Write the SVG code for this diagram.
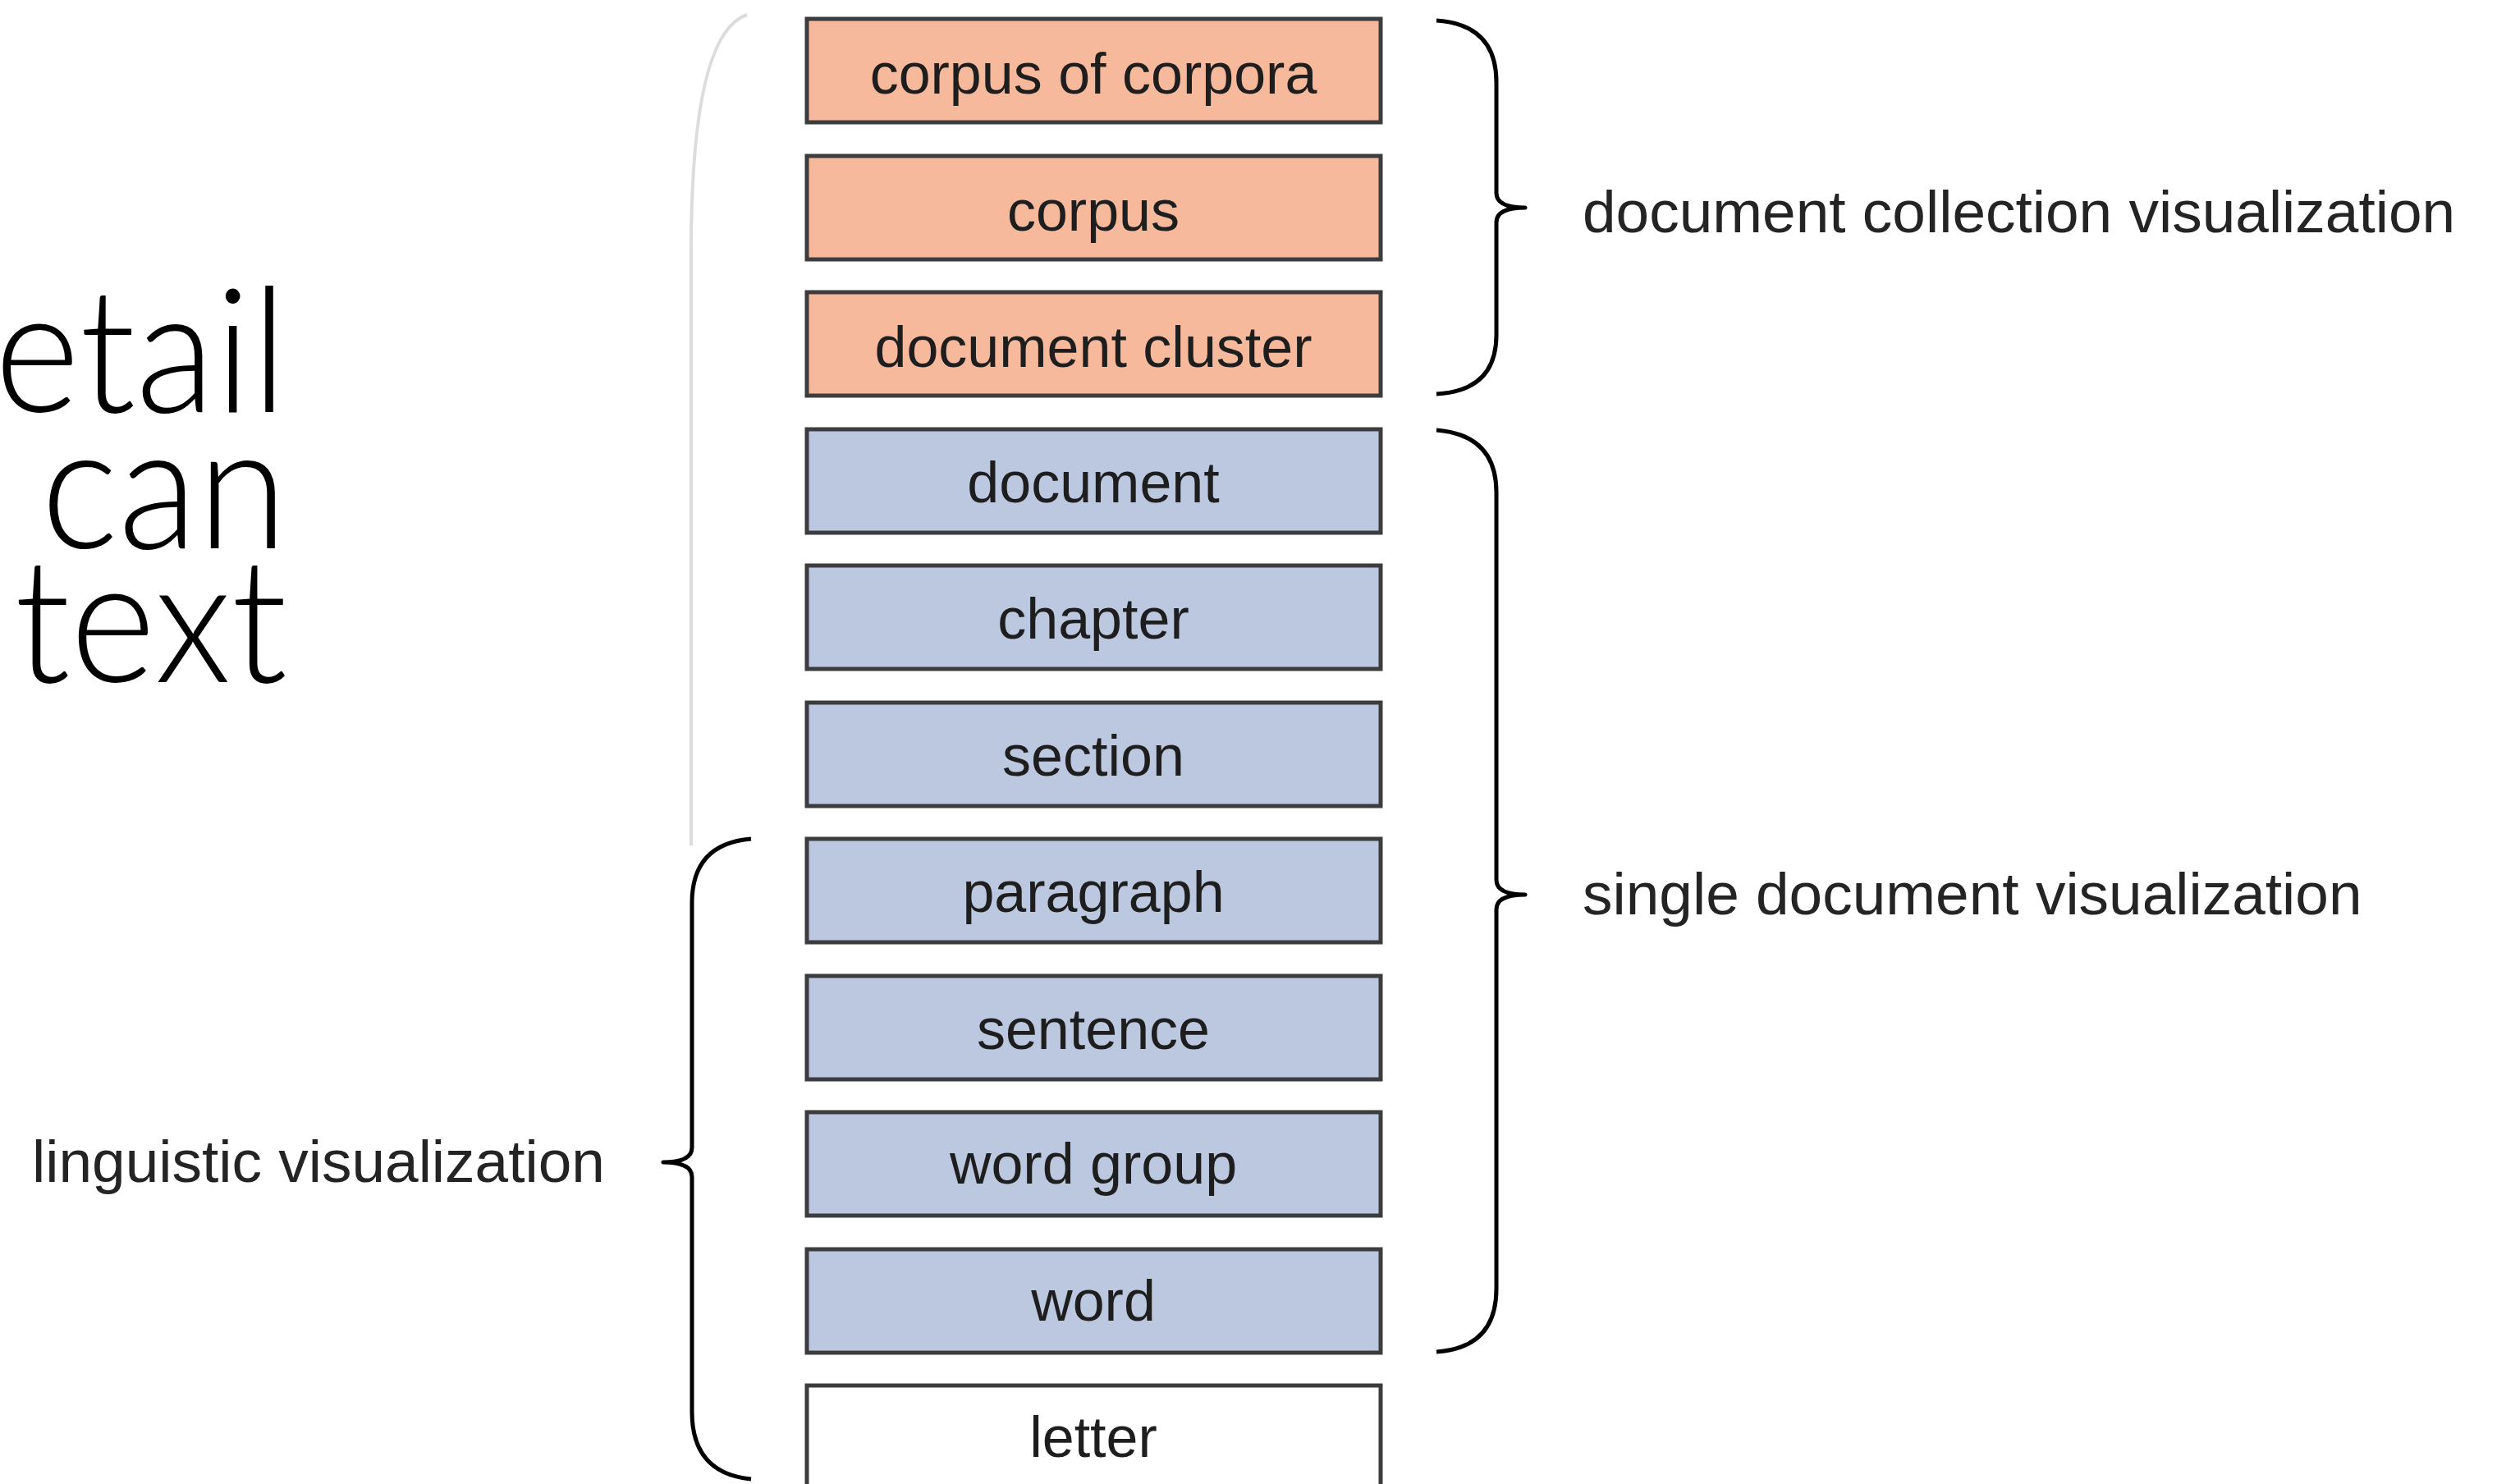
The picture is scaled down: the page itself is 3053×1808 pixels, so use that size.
<svg xmlns="http://www.w3.org/2000/svg" width="3053" height="1808" viewBox="0 0 3053 1808">
<style>
.box{stroke:#3c3c3e;stroke-width:5}
.orange{fill:#F7B99C}
.blue{fill:#BCC8E0}
.white{fill:#FFFFFF}
.lbl{font-family:"Liberation Sans",Arial,sans-serif;font-size:70px;fill:#1e1e1e;text-anchor:middle}
.side{font-family:"Liberation Sans",Arial,sans-serif;font-size:73px;fill:#242424}
.big{font-family:Lato,"Open Sans",sans-serif;font-weight:300;font-size:212px;fill:#000;text-anchor:end}
.brace{fill:none;stroke:#000;stroke-width:5;stroke-linejoin:round}
</style>
<rect width="3053" height="1808" fill="#fff"/>
<g id="title" transform="matrix(0.94,0,0,1,350,0)">
<text class="big" x="0" y="502">etail</text>
<text class="big" x="0" y="668">can</text>
<text class="big" x="0" y="831">text</text>
</g>
<g id="connectors">
<path d="M910,18 Q843,40 842,300 L842,1030" fill="none" stroke="#dcdcdc" stroke-width="4"/>
<path class="brace" d="M1750,25 Q1823,30 1823,100 L1823,235 Q1823,253 1858,253 Q1823,253 1823,271 L1823,408 Q1823,476 1750,480"/>
<path class="brace" d="M1750,524 Q1823,530 1823,600 L1823,1072 Q1823,1090 1858,1090 Q1823,1090 1823,1108 L1823,1570 Q1823,1642 1750,1647"/>
<path class="brace" d="M915,1022 Q843,1028 843,1100 L843,1398 Q843,1416 808,1416 Q843,1416 843,1434 L843,1720 Q843,1795 915,1802"/>
</g>
<g id="node-corpus-of-corpora"><rect class="box orange" x="983" y="23" width="699" height="126"/><text class="lbl" x="1332" y="114">corpus of corpora</text></g>
<g id="node-corpus"><rect class="box orange" x="983" y="190" width="699" height="126"/><text class="lbl" x="1332" y="281">corpus</text></g>
<g id="node-document-cluster"><rect class="box orange" x="983" y="356" width="699" height="126"/><text class="lbl" x="1332" y="447">document cluster</text></g>
<g id="node-document"><rect class="box blue" x="983" y="523" width="699" height="126"/><text class="lbl" x="1332" y="612">document</text></g>
<g id="node-chapter"><rect class="box blue" x="983" y="689" width="699" height="126"/><text class="lbl" x="1332" y="778">chapter</text></g>
<g id="node-section"><rect class="box blue" x="983" y="856" width="699" height="126"/><text class="lbl" x="1332" y="945">section</text></g>
<g id="node-paragraph"><rect class="box blue" x="983" y="1022" width="699" height="126"/><text class="lbl" x="1332" y="1111">paragraph</text></g>
<g id="node-sentence"><rect class="box blue" x="983" y="1189" width="699" height="126"/><text class="lbl" x="1332" y="1278">sentence</text></g>
<g id="node-word-group"><rect class="box blue" x="983" y="1355" width="699" height="126"/><text class="lbl" x="1332" y="1442">word group</text></g>
<g id="node-word"><rect class="box blue" x="983" y="1522" width="699" height="126"/><text class="lbl" x="1332" y="1609">word</text></g>
<g id="node-letter"><rect class="box white" x="983" y="1688" width="699" height="126"/><text class="lbl" x="1332" y="1775">letter</text></g>
<g id="labels">
<text class="side" x="1928" y="283">document collection visualization</text>
<text class="side" x="1928" y="1114">single document visualization</text>
<text class="side" x="39" y="1440">linguistic visualization</text>
</g>
</svg>
